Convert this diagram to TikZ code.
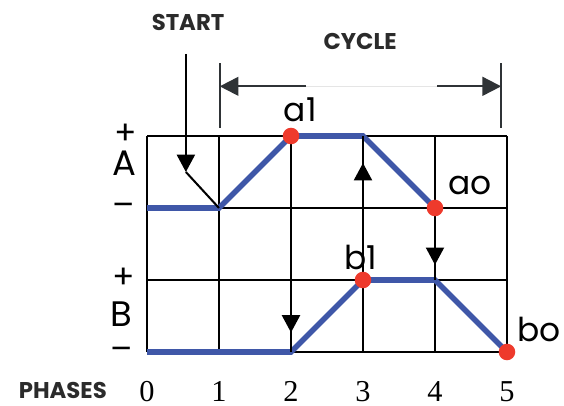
\documentclass[tikz,border=0pt]{standalone}
\usepackage{fontspec}
\setmainfont{Liberation Serif}
\newfontfamily\labelfont{Poppins}
\usepackage{tikz}
\usetikzlibrary{arrows.meta,positioning,decorations.markings}
\definecolor{Signal}{HTML}{3F57A8}
\definecolor{Dot}{HTML}{EE3A2C}
\definecolor{Ink}{HTML}{2B2B2B}
\definecolor{Dim}{HTML}{2F3336}

\begin{document}
\begin{tikzpicture}[
    gridline/.style={line width=0.8pt,color=black},
    sig/.style={line width=2.2pt,color=Signal},
    dot/.style={circle,fill=Dot,inner sep=0pt,minimum size=2.3mm},
    lbl/.style={font=\labelfont\fontsize{13}{13}\selectfont,inner sep=0.5pt},
    head/.style={font=\labelfont\bfseries\fontsize{9}{10}\selectfont,text=Ink},
    num/.style={font=\fontsize{12}{12}\selectfont},
    tip/.style={-{Triangle[length=2.4mm,width=2.5mm]},line width=0.8pt},
    midtip/.style={line width=0.8pt,postaction=decorate,
      decoration={markings,mark=at position #1 with {\arrow{Triangle[length=2.4mm,width=2.5mm]}}}},
    dim/.style={-{Triangle[length=2.6mm,width=2.6mm]},line width=0.8pt,color=Dim}
  ]
    \useasboundingbox (-2.042,-0.75) rectangle (5.792,4.889);

    % grid points: A+/A- and B+/B- rows
    \foreach \x in {0,...,5} {
      \coordinate (Bm\x) at (\x,0);
      \coordinate (Bp\x) at (\x,1);
      \coordinate (Am\x) at (\x,2);
      \coordinate (Ap\x) at (\x,3);
    }
    \draw[gridline] (0,0) grid (5,3);

    % actuator motions
    \draw[sig] (Am0) -- (Am1) -- (Ap2) -- (Ap3) -- (Am4);
    \draw[sig] (Bm0) -- (Bm2) -- (Bp3) -- (Bp4) -- (Bm5);

    \node[dot] (a1) at (Ap2) {};
    \node[dot] (ao) at (Am4) {};
    \node[dot] (b1) at (Bp3) {};
    \node[dot] (bo) at (Bm5) {};

    \node[lbl] (a1txt) at (2.13,3.37) {a1};
    \node[lbl] (aotxt) at (4.49,2.31) {ao};
    \node[lbl] (b1txt) at (2.97,1.31) {b1};
    \node[lbl] (botxt) at (5.44,0.31) {bo};

    % signals
    \draw[midtip=0.906] (a1) -- (Bm2);
    \draw[midtip=0.80] (b1) -- (Ap3);
    \draw[midtip=0.76] (ao) -- (Bp4);

    % start
    \node[head] (start) at (0.57,4.58) {START};
    \coordinate (starttop) at (0.54,4.14);
    \coordinate (startbend) at (0.54,2.5);
    \draw[tip] (starttop) -- (startbend);
    \draw[line width=0.8pt] (startbend) -- (Am1);

    % cycle
    \node[head] (cycle) at (2.96,4.31) {CYCLE};
    \coordinate (extLtop) at (1.01,4.01);
    \coordinate (extLbot) at (1.01,3.11);
    \coordinate (extRtop) at (4.92,4.01);
    \coordinate (extRbot) at (4.92,3.11);
    \coordinate (cycL) at (1.01,3.69);
    \coordinate (cycR) at (4.92,3.69);
    \coordinate (gapL) at (2.21,3.69);
    \coordinate (gapR) at (4.03,3.69);
    \draw[line width=0.8pt,Dim] (extLtop) -- (extLbot);
    \draw[line width=0.8pt,Dim] (extRtop) -- (extRbot);
    \draw[line width=0.5pt,black!10] (gapL) -- (gapR);
    \draw[dim] (gapL) -- (cycL);
    \draw[dim] (gapR) -- (cycR);

    % row labels
    \node[lbl] (Aplus) at (-0.29,3.03) {+};
    \node[lbl,font=\labelfont\fontsize{14}{14}\selectfont] (Aname) at (-0.32,2.62) {A};
    \node[lbl] (Aminus) at (-0.32,1.98) {\textendash};
    \node[lbl] (Bplus) at (-0.33,1.02) {+};
    \node[lbl,font=\labelfont\fontsize{14}{14}\selectfont] (Bname) at (-0.35,0.52) {B};
    \node[lbl] (Bminus) at (-0.35,-0.03) {\textendash};

    % phases
    \node[head] (phases) at (-1.17,-0.53) {PHASES};
    \foreach \x in {0,...,5}
      \node[num] (ph\x) at (\x,-0.55) {\x};
  \end{tikzpicture}
\end{document}
